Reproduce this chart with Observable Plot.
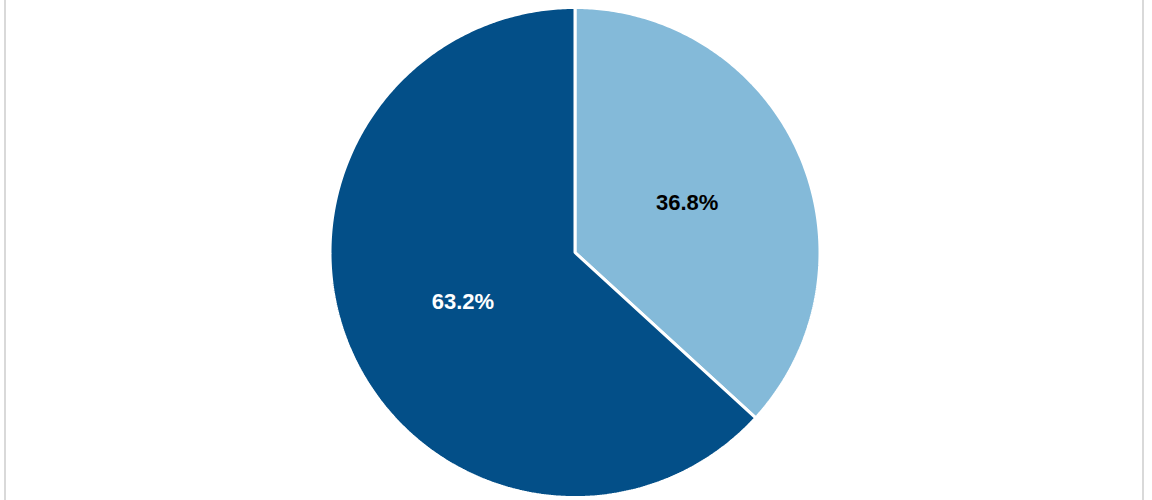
<!DOCTYPE html>
<html>
<head>
<meta charset="utf-8">
<script src="https://cdn.jsdelivr.net/npm/d3@7"></script>
<script src="https://cdn.jsdelivr.net/npm/@observablehq/plot@0.6"></script>
<style>
  html, body { margin: 0; padding: 0; background: #fff; }
  #wrap { position: relative; width: 1152px; height: 500px; }
  .edge { position: absolute; top: 0; width: 2px; height: 500px; background: #d9d9d9; }
</style>
</head>
<body>
<div id="wrap">
  <div class="edge" style="left:4px"></div>
  <div class="edge" style="left:1142px"></div>
</div>
<script>
const categories = ["B", "A"];
const values = [36.8, 63.2];
const labels = ["36.8%", "63.2%"];
const colors = ["#84bad9", "#034f88"];
const labelColors = ["#000000", "#ffffff"];

const total = d3.sum(values);
const pie = d3.pie().sort(null).value(d => d)(values);

// Build slice outlines from pie angles (angle 0 at top, clockwise)
const pts = [];
pie.forEach((s, i) => {
  pts.push({slice: categories[i], x: 0, y: 0});
  const n = Math.max(2, Math.ceil((s.endAngle - s.startAngle) / 0.01));
  for (let k = 0; k <= n; k++) {
    const a = s.startAngle + (s.endAngle - s.startAngle) * k / n;
    pts.push({slice: categories[i], x: Math.sin(a), y: Math.cos(a)});
  }
});
const labelData = pie.map((s, i) => {
  const a = (s.startAngle + s.endAngle) / 2;
  return {slice: categories[i], label: labels[i], color: labelColors[i], x: 0.5 * Math.sin(a), y: 0.5 * Math.cos(a)};
});

const cx = 574.5, cy = 252, R = 245;
const chart = Plot.plot({
  width: 1152,
  height: 500,
  margin: 0,
  x: {domain: [-1, 1], range: [cx - R, cx + R], axis: null},
  y: {domain: [-1, 1], range: [cy + R, cy - R], axis: null},
  color: {domain: categories, range: colors},
  style: {background: "transparent"},
  marks: [
    Plot.line(pts, {x: "x", y: "y", z: "slice", fill: "slice", stroke: "white", strokeWidth: 3, strokeLinejoin: "miter", curve: "linear-closed"}),
    Plot.text(labelData, {x: "x", y: "y", text: "label", fill: "color", fontSize: 22, fontWeight: "bold", fontFamily: "Liberation Sans, Arial, sans-serif"})
  ]
});
chart.style.position = "absolute";
chart.style.left = "0";
chart.style.top = "0";
document.getElementById("wrap").appendChild(chart);
</script>
</body>
</html>
